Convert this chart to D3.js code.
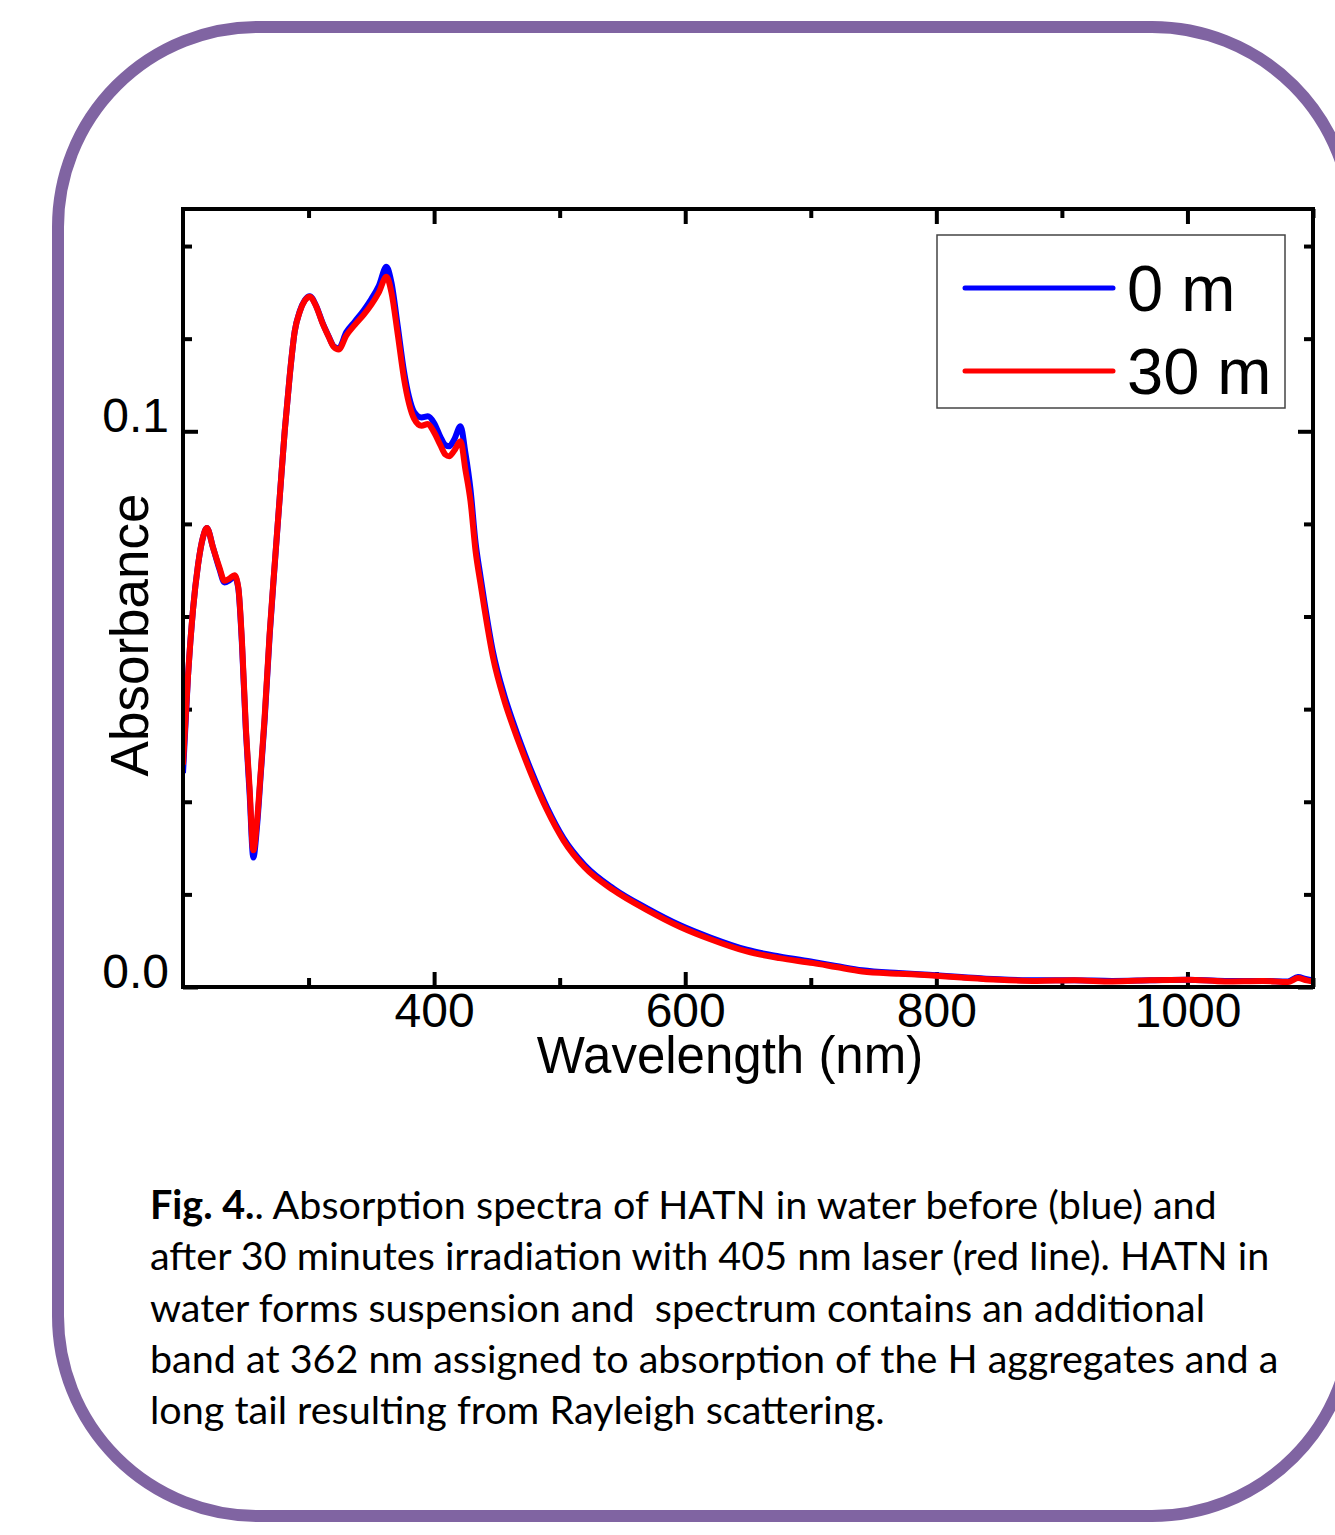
<!DOCTYPE html>
<html>
<head>
<meta charset="utf-8">
<script src="https://cdn.jsdelivr.net/npm/d3@7"></script>
<style>
  body { margin: 0; background: #fff; }
  svg { display: block; }
</style>
</head>
<body>
<div id="chart"></div>
<script>
// wavelength grid (nm)
const wavelength = [200, 204, 208, 212, 216, 219, 224, 229, 233, 237, 241, 244, 247, 250, 253, 256, 259, 262, 265, 269,
    273, 277, 281, 285, 289, 293, 297, 301, 306, 311, 316, 320, 324, 330, 337, 344, 350, 356, 362, 366,
    371, 376, 380, 384, 390, 395, 400, 405, 409, 412, 416, 421, 425, 429, 433, 437, 440, 447, 456, 463,
    469, 477, 490, 503, 520, 543, 570, 596, 620, 649, 675, 702, 720, 741, 770, 794, 820, 850, 880, 910,
    940, 970, 1000, 1030, 1060, 1080, 1088, 1095, 1100];

// absorbance before irradiation (blue)
const abs0m = [0.0385, 0.0560, 0.0680, 0.0760, 0.0810, 0.0826, 0.0790, 0.0752, 0.0728, 0.0732, 0.0739, 0.0718, 0.0615, 0.0465, 0.0350, 0.0233, 0.0290, 0.0385, 0.0480, 0.0632,
    0.0758, 0.0880, 0.1000, 0.1100, 0.1180, 0.1216, 0.1236, 0.1243, 0.1226, 0.1196, 0.1171, 0.1153, 0.1149, 0.1178, 0.1198, 0.1218, 0.1238, 0.1262, 0.1296, 0.1268,
    0.1190, 0.1108, 0.1062, 0.1035, 0.1025, 0.1027, 0.1015, 0.0990, 0.0975, 0.0973, 0.0985, 0.1009, 0.0960, 0.0895, 0.0800, 0.0738, 0.0694, 0.0602, 0.0524, 0.0476,
    0.0438, 0.0391, 0.0323, 0.0268, 0.0219, 0.0177, 0.0141, 0.0111, 0.0089, 0.0067, 0.0055, 0.0045, 0.0038, 0.0030, 0.0025, 0.0022, 0.0018, 0.0014, 0.0012, 0.0012,
    0.0011, 0.0012, 0.0013, 0.0011, 0.0011, 0.0010, 0.0018, 0.0014, 0.0012];

// absorbance after 30 min irradiation (red)
const abs30m = [0.0400, 0.0560, 0.0680, 0.0760, 0.0810, 0.0826, 0.0790, 0.0755, 0.0731, 0.0735, 0.0741, 0.0720, 0.0620, 0.0470, 0.0360, 0.0246, 0.0300, 0.0390, 0.0485, 0.0636,
    0.0760, 0.0880, 0.1000, 0.1100, 0.1180, 0.1215, 0.1235, 0.1242, 0.1225, 0.1195, 0.1170, 0.1152, 0.1147, 0.1172, 0.1192, 0.1210, 0.1228, 0.1250, 0.1278, 0.1250,
    0.1175, 0.1095, 0.1050, 0.1023, 0.1010, 0.1013, 0.0998, 0.0975, 0.0958, 0.0955, 0.0965, 0.0982, 0.0930, 0.0874, 0.0785, 0.0725, 0.0682, 0.0592, 0.0515, 0.0468,
    0.0431, 0.0385, 0.0318, 0.0264, 0.0215, 0.0174, 0.0138, 0.0108, 0.0086, 0.0064, 0.0052, 0.0043, 0.0036, 0.0028, 0.0024, 0.0021, 0.0017, 0.0013, 0.0011, 0.0012,
    0.0010, 0.0012, 0.0013, 0.0010, 0.0011, 0.0009, 0.0016, 0.0012, 0.0010];

const seriesNames = ["0 m", "30 m"];
const seriesColors = ["#0000ff", "#ff0000"];

const xMajor = [400, 600, 800, 1000];
const xMinor = [300, 500, 700, 900, 1100];
const yMajor = [0.0, 0.1];
const yMinor = [1, 2, 3, 4, 5, 7, 8].map(k => k * 0.1 / 6);

const captionLines = [
    [["Fig. 4.", true], [". Absorption spectra of HATN in water before (blue) and", false]],
    [["after 30 minutes irradiation with 405 nm laser (red line). HATN in", false]],
    [["water forms suspension and  spectrum contains an additional", false]],
    [["band at 362 nm assigned to absorption of the H aggregates and a", false]],
    [["long tail resulting from Rayleigh scattering.", false]]
];

const W = 1335, H = 1535;
const svg = d3.select("#chart").append("svg")
    .attr("width", W)
    .attr("height", H);

// purple rounded frame
svg.append("rect")
    .attr("x", 58).attr("y", 27)
    .attr("width", 1294).attr("height", 1489)
    .attr("rx", 200).attr("ry", 200)
    .attr("fill", "none")
    .attr("stroke", "#8064a2")
    .attr("stroke-width", 12);

// plot box
const box = { left: 183, top: 209, right: 1313, bottom: 987 };

const x = d3.scaleLinear().domain([200, 1100]).range([box.left, box.right]);
const y = d3.scaleLinear().domain([0, 0.14]).range([box.bottom, box.top]);

const axisFont = "'Liberation Sans', Arial, sans-serif";

function styleTicks(g) {
    g.select(".domain").remove();
    g.selectAll(".tick line").attr("stroke", "#000").attr("stroke-width", 4);
}

// bottom
svg.append("g").attr("transform", `translate(0,${box.bottom})`)
    .call(d3.axisBottom(x).tickValues(xMinor).tickSize(-9).tickFormat(""))
    .call(styleTicks);
svg.append("g").attr("transform", `translate(0,${box.bottom})`)
    .call(d3.axisBottom(x).tickValues(xMajor).tickSize(-15).tickPadding(6).tickFormat(d3.format("d")))
    .call(styleTicks)
    .call(g => g.selectAll("text")
        .attr("fill", "#000")
        .style("font-family", axisFont)
        .style("font-size", "48px"));

// top
svg.append("g").attr("transform", `translate(0,${box.top})`)
    .call(d3.axisTop(x).tickValues(xMinor).tickSize(-9).tickFormat(""))
    .call(styleTicks);
svg.append("g").attr("transform", `translate(0,${box.top})`)
    .call(d3.axisTop(x).tickValues(xMajor).tickSize(-15).tickFormat(""))
    .call(styleTicks);

// left
svg.append("g").attr("transform", `translate(${box.left},0)`)
    .call(d3.axisLeft(y).tickValues(yMinor).tickSize(-9).tickFormat(""))
    .call(styleTicks);
svg.append("g").attr("transform", `translate(${box.left},0)`)
    .call(d3.axisLeft(y).tickValues(yMajor).tickSize(-15).tickPadding(14).tickFormat(d3.format(".1f")))
    .call(styleTicks)
    .call(g => g.selectAll("text")
        .attr("fill", "#000")
        .attr("dy", "0.0em")
        .style("font-family", axisFont)
        .style("font-size", "48px"));

// right
svg.append("g").attr("transform", `translate(${box.right},0)`)
    .call(d3.axisRight(y).tickValues(yMinor).tickSize(-9).tickFormat(""))
    .call(styleTicks);
svg.append("g").attr("transform", `translate(${box.right},0)`)
    .call(d3.axisRight(y).tickValues(yMajor).tickSize(-15).tickFormat(""))
    .call(styleTicks);

// clip for the curves
svg.append("clipPath").attr("id", "plot-clip")
    .append("rect")
    .attr("x", box.left).attr("y", box.top)
    .attr("width", box.right - box.left).attr("height", box.bottom - box.top);

const line = d3.line()
    .x(d => x(d[0]))
    .y(d => y(d[1]))
    .curve(d3.curveMonotoneX);

const series = [abs0m, abs30m].map(vals => wavelength.map((w, i) => [w, vals[i]]));

svg.append("g").attr("clip-path", "url(#plot-clip)")
    .selectAll("path")
    .data(series)
    .enter().append("path")
    .attr("d", line)
    .attr("fill", "none")
    .attr("stroke", (d, i) => seriesColors[i])
    .attr("stroke-width", 6)
    .attr("stroke-linejoin", "round");

// frame on top
svg.append("rect")
    .attr("x", box.left).attr("y", box.top)
    .attr("width", box.right - box.left).attr("height", box.bottom - box.top)
    .attr("fill", "none")
    .attr("stroke", "#000")
    .attr("stroke-width", 4);

// axis titles
svg.append("text")
    .attr("x", 730).attr("y", 1073)
    .attr("text-anchor", "middle")
    .style("font-family", axisFont)
    .style("font-size", "51px")
    .text("Wavelength (nm)");

svg.append("text")
    .attr("transform", "translate(148,635) rotate(-90)")
    .attr("text-anchor", "middle")
    .style("font-family", axisFont)
    .style("font-size", "53px")
    .text("Absorbance");

// legend
const legend = svg.append("g").attr("transform", "translate(937,235)");
legend.append("rect")
    .attr("width", 348).attr("height", 173)
    .attr("fill", "#fff")
    .attr("stroke", "#444")
    .attr("stroke-width", 1.5);

const item = legend.selectAll(".legend")
    .data(seriesNames)
    .enter().append("g")
    .attr("class", "legend")
    .attr("transform", (d, i) => `translate(0,${53 + i * 83})`);

item.append("line")
    .attr("x1", 28).attr("x2", 176)
    .attr("stroke", (d, i) => seriesColors[i])
    .attr("stroke-width", 5)
    .attr("stroke-linecap", "round");

item.append("text")
    .attr("x", 190).attr("y", 23)
    .style("font-family", axisFont)
    .style("font-size", "65px")
    .text(d => d);

// caption
const caption = svg.append("g")
    .style("font-family", "Lato, 'Open Sans', sans-serif")
    .style("font-size", "39.5px")
    .style("white-space", "pre")
    .attr("fill", "#000");

captionLines.forEach((parts, i) => {
    const t = caption.append("text")
        .attr("x", 150)
        .attr("y", 1219 + i * 51.3)
        .attr("xml:space", "preserve");
    parts.forEach(p => {
        t.append("tspan")
            .style("font-weight", p[1] ? "bold" : "normal")
            .text(p[0]);
    });
});
</script>
</body>
</html>
